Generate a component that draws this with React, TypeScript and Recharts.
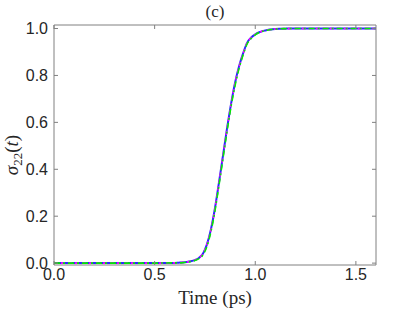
import React from "react";
import {
  LineChart,
  Line,
  XAxis,
  YAxis,
  ReferenceArea,
  Label,
} from "recharts";

// time axis (ps)
const timePs = [
  0, 0.1, 0.2, 0.3, 0.4, 0.5, 0.6, 0.62, 0.64, 0.66, 0.68, 0.7, 0.72, 0.74,
  0.76, 0.78, 0.8, 0.82, 0.84, 0.86, 0.88, 0.9, 0.92, 0.94, 0.96, 0.98, 1.0,
  1.02, 1.04, 1.06, 1.08, 1.1, 1.12, 1.15, 1.2, 1.3, 1.4, 1.5, 1.6,
];

// sigma_22(t) for the three overlapping curves
const sigmaBlue = [
  0, 0, 0, 0, 0, 0, 0.001, 0.002, 0.003, 0.005, 0.008, 0.013, 0.022, 0.04,
  0.08, 0.145, 0.235, 0.345, 0.46, 0.575, 0.68, 0.77, 0.84, 0.895, 0.94,
  0.962, 0.975, 0.984, 0.99, 0.994, 0.996, 0.998, 0.999, 0.9995, 1, 1, 1, 1, 1,
];
const sigmaMagenta = [
  0, 0, 0, 0, 0, 0, 0.001, 0.002, 0.003, 0.005, 0.008, 0.013, 0.022, 0.04,
  0.079, 0.143, 0.232, 0.342, 0.457, 0.572, 0.677, 0.768, 0.838, 0.893, 0.939,
  0.961, 0.975, 0.984, 0.99, 0.994, 0.996, 0.998, 0.999, 0.9995, 1, 1, 1, 1, 1,
];
const sigmaGreen = [
  0, 0, 0, 0, 0, 0, 0.001, 0.001, 0.002, 0.004, 0.007, 0.011, 0.019, 0.035,
  0.072, 0.135, 0.224, 0.333, 0.448, 0.563, 0.669, 0.758, 0.831, 0.888, 0.935,
  0.958, 0.973, 0.983, 0.989, 0.993, 0.996, 0.998, 0.999, 0.9995, 1, 1, 1, 1, 1,
];

const xTicks = [0, 0.5, 1.0, 1.5];
const yTicks = [0, 0.2, 0.4, 0.6, 0.8, 1.0];

const data = timePs.map((t, i) => ({
  t,
  blue: sigmaBlue[i],
  magenta: sigmaMagenta[i],
  green: sigmaGreen[i],
}));

const PLOT_LEFT = 54;
const PLOT_RIGHT = 376;
const PLOT_TOP = 25;
const PLOT_BOTTOM = 265;
const FRAME = "#808080";
const TEXT = "#262626";
const SANS = "'Liberation Sans', Arial, sans-serif";
const SERIF = "'Liberation Serif', 'Times New Roman', serif";

function XTick(props: any) {
  const { x, payload } = props;
  return (
    <g>
      <line x1={x} x2={x} y1={PLOT_BOTTOM} y2={PLOT_BOTTOM - 4} stroke={FRAME} />
      <line x1={x} x2={x} y1={PLOT_TOP} y2={PLOT_TOP + 4} stroke={FRAME} />
      <text
        x={x}
        y={PLOT_BOTTOM + 15}
        textAnchor="middle"
        fontFamily={SANS}
        fontSize={16}
        fill={TEXT}
      >
        {Number(payload.value).toFixed(1)}
      </text>
    </g>
  );
}

function YTick(props: any) {
  const { y, payload } = props;
  return (
    <g>
      <line x1={PLOT_LEFT} x2={PLOT_LEFT + 4} y1={y} y2={y} stroke={FRAME} />
      <line x1={PLOT_RIGHT} x2={PLOT_RIGHT - 4} y1={y} y2={y} stroke={FRAME} />
      <text
        x={PLOT_LEFT - 6}
        y={y}
        dy="0.36em"
        textAnchor="end"
        fontFamily={SANS}
        fontSize={16}
        fill={TEXT}
      >
        {Number(payload.value).toFixed(1)}
      </text>
    </g>
  );
}

function YTitle() {
  return (
    <text
      transform="translate(18,155) rotate(-90)"
      textAnchor="middle"
      fontFamily={SERIF}
      fontSize={19}
      fill={TEXT}
    >
      <tspan fontStyle="italic">σ</tspan>
      <tspan fontSize={13} dy={4}>22</tspan>
      <tspan dy={-4}>(</tspan>
      <tspan fontStyle="italic">t</tspan>
      <tspan>)</tspan>
    </text>
  );
}

function XTitle() {
  return (
    <text
      x={(PLOT_LEFT + PLOT_RIGHT) / 2}
      y={304}
      textAnchor="middle"
      fontFamily={SERIF}
      fontSize={19}
      fill={TEXT}
    >
      Time (ps)
    </text>
  );
}

export default function App() {
  return (
    <div style={{ position: "absolute", left: 0, top: 0, width: 415, height: 312, background: "#fff" }}>
      <div
        style={{
          position: "absolute",
          left: PLOT_LEFT,
          width: PLOT_RIGHT - PLOT_LEFT,
          top: 2,
          textAlign: "center",
          fontFamily: SERIF,
          fontSize: 17,
          color: TEXT,
        }}
      >
        (c)
      </div>
      <LineChart
        width={415}
        height={312}
        data={data}
        margin={{ top: PLOT_TOP, right: 415 - PLOT_RIGHT, bottom: 0, left: 0 }}
      >
        <ReferenceArea
          x1={0}
          x2={1.6}
          y1={-0.008}
          y2={1.015}
          fill="none"
          stroke={FRAME}
          strokeWidth={1}
          ifOverflow="visible"
        />
        <XAxis
          dataKey="t"
          type="number"
          domain={[0, 1.6]}
          ticks={xTicks}
          allowDataOverflow
          axisLine={false}
          tickLine={false}
          tick={<XTick />}
          height={312 - PLOT_BOTTOM}
        >
          <Label content={() => <XTitle />} />
        </XAxis>
        <YAxis
          type="number"
          domain={[-0.008, 1.015]}
          ticks={yTicks}
          allowDataOverflow
          axisLine={false}
          tickLine={false}
          tick={<YTick />}
          width={PLOT_LEFT}
        >
          <Label content={() => <YTitle />} />
        </YAxis>
        <Line
          dataKey="blue"
          stroke="#2a2aff"
          strokeWidth={2}
          dot={false}
          isAnimationActive={false}
          type="monotone"
        />
        <Line
          dataKey="magenta"
          stroke="#ff00ff"
          strokeWidth={1.6}
          strokeDasharray="4 3"
          dot={false}
          isAnimationActive={false}
          type="monotone"
        />
        <Line
          dataKey="green"
          stroke="#00ee00"
          strokeWidth={1.6}
          strokeDasharray="6 3 2 3"
          dot={false}
          isAnimationActive={false}
          type="monotone"
        />
      </LineChart>
    </div>
  );
}
